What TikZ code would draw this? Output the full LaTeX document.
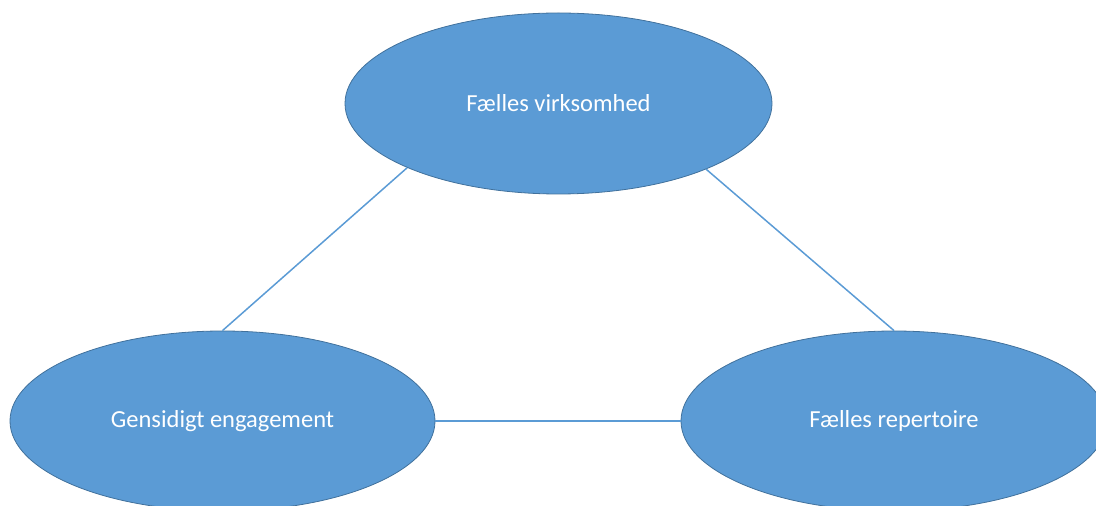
\documentclass[tikz,border=0pt]{standalone}
\usepackage{fontspec}
\setmainfont{Carlito}
\usetikzlibrary{shapes.geometric}
\definecolor{bubblefill}{HTML}{5B9BD5}
\definecolor{bubbleedge}{HTML}{41719C}
\definecolor{linkblue}{HTML}{5B9BD5}
\begin{document}
\begin{tikzpicture}[x=1pt,y=1pt,
  bubble/.style={ellipse, fill=bubblefill, draw=bubbleedge, line width=0.8pt,
    inner sep=0pt, text=white, font=\fontsize{24.5}{28}\selectfont},
  link/.style={draw=linkblue, line width=1.5pt}]
\useasboundingbox (0,0) rectangle (1096,506);
\node[bubble, minimum width=427pt, minimum height=181pt] (top) at (558.5,402.5) {Fælles virksomhed};
\node[bubble, minimum width=425pt, minimum height=180pt] (left) at (222.5,85) {Gensidigt engagement};
\node[bubble, minimum width=426pt, minimum height=180pt] (right) at (894,85) {Fælles repertoire};
\draw[link] (top.203.2) -- (left.north);
\draw[link] (top.336.8) -- (right.north);
\draw[link] (left.east) -- (right.west);
\end{tikzpicture}
\end{document}
